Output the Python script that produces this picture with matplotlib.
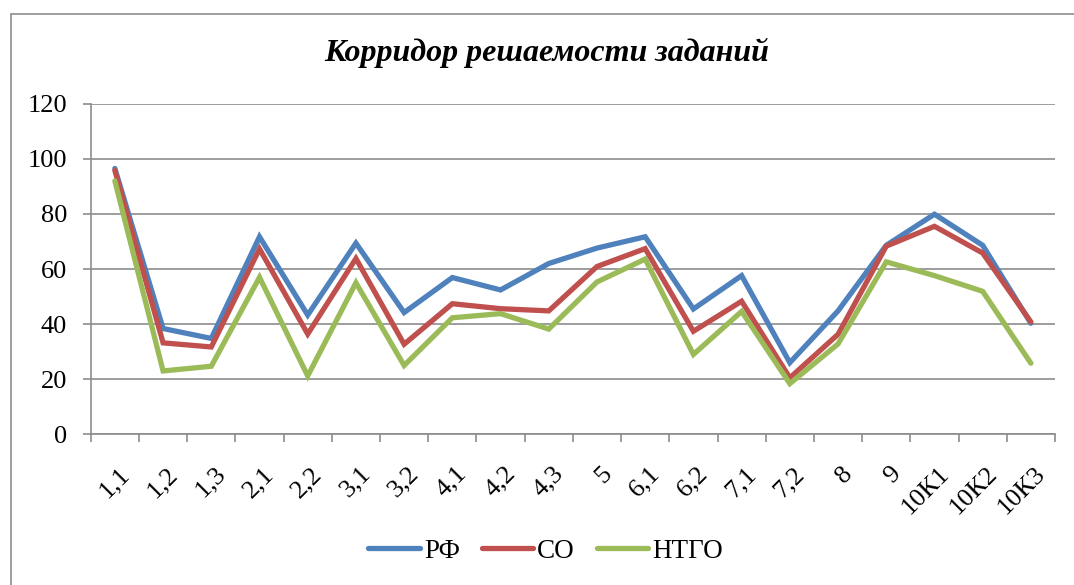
import matplotlib
matplotlib.use('Agg')
import matplotlib.pyplot as plt
from matplotlib.patches import Rectangle
from matplotlib.transforms import ScaledTranslation

# task labels
categories = ['1,1', '1,2', '1,3', '2,1', '2,2', '3,1', '3,2', '4,1', '4,2', '4,3',
              '5', '6,1', '6,2', '7,1', '7,2', '8', '9', '10К1', '10К2', '10К3']

# percent solved
rf = [96.5, 38.4, 34.8, 71.7, 43.3, 69.4, 44.2, 56.9, 52.4, 62.0,
      67.6, 71.7, 45.5, 57.6, 26.0, 44.8, 68.6, 79.9, 68.6, 40.3]
so = [95.8, 33.2, 31.7, 67.3, 36.4, 63.8, 32.7, 47.4, 45.6, 44.8,
      60.9, 67.4, 37.4, 48.3, 20.5, 36.3, 68.3, 75.5, 65.8, 40.8]
ntgo = [92.0, 23.0, 24.7, 57.0, 21.2, 55.0, 25.0, 42.3, 43.8, 38.2,
        55.3, 63.6, 29.0, 44.6, 18.4, 32.8, 62.6, 57.6, 51.9, 25.8]

series_names = ['РФ', 'СО', 'НТГО']
colors = ['#4F81BD', '#C0504D', '#9BBB59']
grid_col = '#8c8c8c'

plt.rcParams['font.family'] = ['Liberation Serif', 'DejaVu Serif']

fig = plt.figure(figsize=(10.74, 5.85), dpi=100)

# outer chart frame
fig.patches.append(Rectangle((10.5 / 1074, -0.1), 1.2, 1 - 14 / 585 + 0.1,
                             transform=fig.transFigure, fill=False,
                             edgecolor=grid_col, linewidth=1.2))

ax = fig.add_axes([0.0845, 0.2576, 0.8978, 0.5651])

x = list(range(len(categories)))
for vals, name, col in zip([rf, so, ntgo], series_names, colors):
    ax.plot(x, vals, color=col, linewidth=3.8, label=name,
            solid_joinstyle='miter', solid_capstyle='round')

ax.set_xlim(-0.5, len(categories) - 0.5)
ax.set_ylim(0, 120)
ax.set_yticks(range(0, 121, 20))
ax.yaxis.grid(True, color=grid_col, linewidth=1.2)
ax.set_axisbelow(True)

for s in ['top', 'right']:
    ax.spines[s].set_visible(False)
for s in ['left', 'bottom']:
    ax.spines[s].set_color(grid_col)
    ax.spines[s].set_linewidth(1.2)

ax.tick_params(axis='y', length=6, width=1.2, color=grid_col, pad=11,
               labelsize=19)
ax.set_xticks(x)
ax.set_xticks([i - 0.5 for i in range(len(categories) + 1)], minor=True)
ax.tick_params(axis='x', which='major', length=0, pad=26, labelsize=19)
ax.tick_params(axis='x', which='minor', length=6, width=1.2, color=grid_col)
ax.set_xticklabels(categories, rotation=45, ha='right', va='center',
                   rotation_mode='anchor')
offset = ScaledTranslation(0.11, 0, fig.dpi_scale_trans)
for lbl in ax.get_xticklabels():
    lbl.set_transform(lbl.get_transform() + offset)

fig.text(0.509, 0.909, 'Корридор решаемости заданий', ha='center', va='center',
         fontsize=23, fontweight='bold', fontstyle='italic')

fig.legend(loc='center', bbox_to_anchor=(0.508, 0.058), ncol=3, frameon=False,
           fontsize=19.5, handlelength=1.9, handletextpad=0.15,
           columnspacing=0.8)

fig.savefig('out.png', dpi=100)
